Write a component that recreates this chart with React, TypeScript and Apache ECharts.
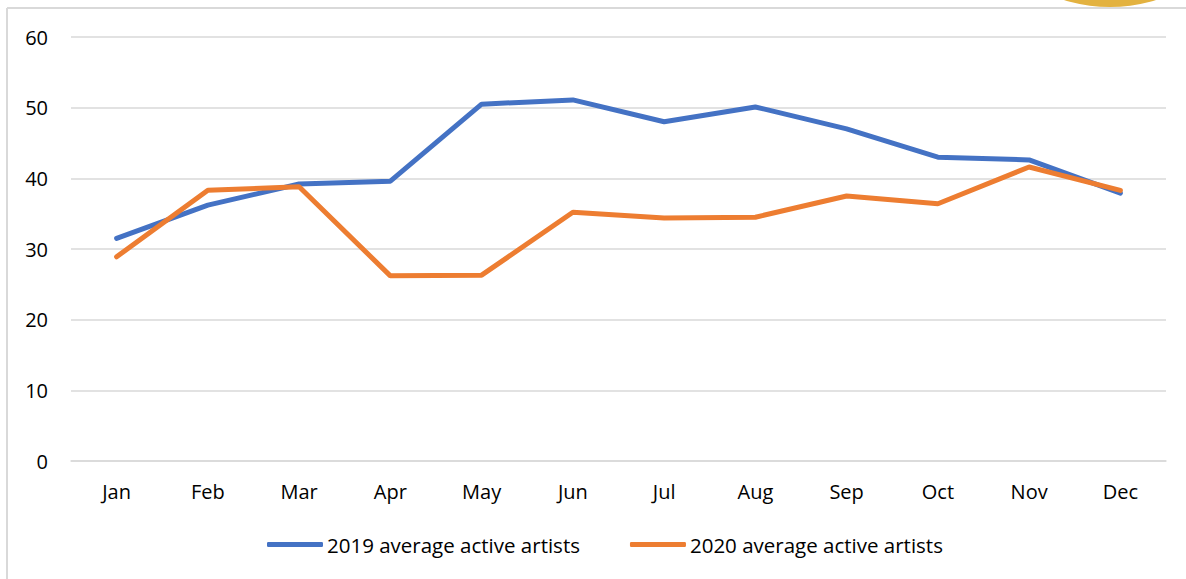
import React, { useEffect, useRef } from "react";
import * as echarts from "echarts";

const months = ["Jan", "Feb", "Mar", "Apr", "May", "Jun", "Jul", "Aug", "Sep", "Oct", "Nov", "Dec"];
const artists2019 = [31.5, 36.2, 39.2, 39.6, 50.5, 51.1, 48.0, 50.1, 47.0, 43.0, 42.6, 37.9];
const artists2020 = [28.9, 38.3, 38.8, 26.2, 26.3, 35.2, 34.4, 34.5, 37.5, 36.4, 41.6, 38.3];
const seriesNames = ["2019 average active artists", "2020 average active artists"];

export default function App() {
  const ref = useRef<HTMLDivElement>(null);
  useEffect(() => {
    if (!ref.current) return;
    const chart = echarts.init(ref.current, null, { renderer: "svg" });
    const font = "Open Sans, Noto Sans, sans-serif";
    chart.setOption({
      animation: false,
      backgroundColor: "#ffffff",
      textStyle: { fontFamily: font },
      grid: { left: 71, right: 20, top: 37, bottom: 118, containLabel: false },
      xAxis: {
        type: "category",
        data: months,
        boundaryGap: true,
        axisLine: { show: true, lineStyle: { color: "#d9d9d9", width: 1.5 } },
        axisTick: { show: false },
        axisLabel: { color: "#000", fontSize: 20, margin: 20, fontFamily: font },
      },
      yAxis: {
        type: "value",
        min: 0,
        max: 60,
        interval: 10,
        axisLine: { show: false },
        axisTick: { show: false },
        splitLine: { lineStyle: { color: "#d9d9d9", width: 1.5 } },
        axisLabel: { color: "#000", fontSize: 20, margin: 23, fontFamily: font },
      },
      legend: {
        bottom: 19,
        left: 262,
        icon: "roundRect",
        itemWidth: 56,
        itemHeight: 5,
        itemGap: 50,
        textStyle: { color: "#000", fontSize: 20.5, padding: [0, 0, 0, -1], fontFamily: font },
        data: seriesNames,
      },
      series: [
        {
          name: seriesNames[0],
          type: "line",
          data: artists2019,
          symbol: "none",
          lineStyle: { color: "#4472C4", width: 5, cap: "round" },
          itemStyle: { color: "#4472C4" },
        },
        {
          name: seriesNames[1],
          type: "line",
          data: artists2020,
          symbol: "none",
          lineStyle: { color: "#ED7D31", width: 5, cap: "round" },
          itemStyle: { color: "#ED7D31" },
        },
      ],
      graphic: [
        { type: "circle", shape: { cx: 1110, cy: -148, r: 155 }, style: { fill: "#E3B240" }, z: 10 },
        { type: "line", shape: { x1: 7, y1: 8, x2: 1186, y2: 8 }, style: { stroke: "#d9d9d9", lineWidth: 2 }, z: 11 },
        { type: "line", shape: { x1: 7, y1: 8, x2: 7, y2: 579 }, style: { stroke: "#d9d9d9", lineWidth: 2 }, z: 11 },
      ],
    });
    return () => chart.dispose();
  }, []);
  return (
    <div
      ref={ref}
      style={{ position: "absolute", left: 0, top: 0, width: 1186, height: 579 }}
    />
  );
}
